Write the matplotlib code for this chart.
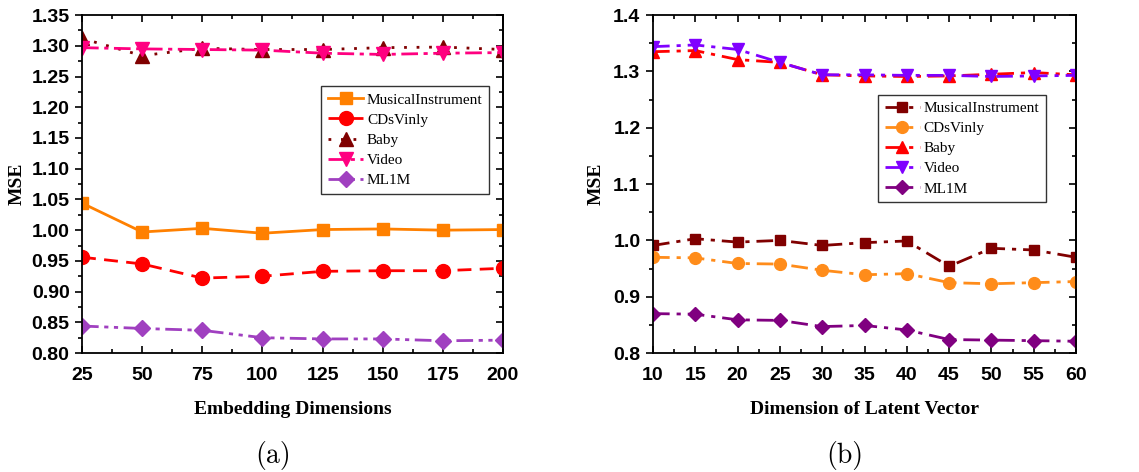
import matplotlib
matplotlib.use("Agg")
import matplotlib.pyplot as plt
from matplotlib.ticker import MultipleLocator, FormatStrFormatter

# (a) embedding dimensions
emb_dims = [25, 50, 75, 100, 125, 150, 175, 200]
a_musical = [1.044, 0.997, 1.003, 0.995, 1.001, 1.002, 1.000, 1.001]
a_cds = [0.956, 0.945, 0.922, 0.925, 0.933, 0.934, 0.934, 0.938]
a_baby = [1.312, 1.284, 1.296, 1.294, 1.294, 1.297, 1.298, 1.294]
a_video = [1.297, 1.295, 1.294, 1.293, 1.288, 1.286, 1.288, 1.289]
a_ml1m = [0.844, 0.840, 0.837, 0.825, 0.823, 0.823, 0.820, 0.821]

# (b) latent vector dimension
lat_dims = [10, 15, 20, 25, 30, 35, 40, 45, 50, 55, 60]
b_musical = [0.991, 1.003, 0.997, 1.000, 0.991, 0.996, 0.999, 0.954, 0.986, 0.983, 0.970]
b_cds = [0.970, 0.969, 0.959, 0.958, 0.947, 0.939, 0.941, 0.925, 0.923, 0.925, 0.927]
b_baby = [1.335, 1.337, 1.321, 1.316, 1.294, 1.292, 1.291, 1.292, 1.295, 1.298, 1.294]
b_video = [1.344, 1.347, 1.339, 1.316, 1.294, 1.294, 1.293, 1.293, 1.291, 1.292, 1.293]
b_ml1m = [0.870, 0.869, 0.859, 0.858, 0.847, 0.849, 0.841, 0.824, 0.823, 0.822, 0.821]

names = ["MusicalInstrument", "CDsVinly", "Baby", "Video", "ML1M"]

tick_font = dict(family="Liberation Sans", weight="bold", size=14)
label_font = dict(family="Liberation Serif", weight="bold", size=14)


def style_axes(ax, xmajor, xminor, ymajor, yminor, yfmt):
    ax.xaxis.set_major_locator(MultipleLocator(xmajor))
    ax.xaxis.set_minor_locator(MultipleLocator(xminor))
    ax.yaxis.set_major_locator(MultipleLocator(ymajor))
    ax.yaxis.set_minor_locator(MultipleLocator(yminor))
    ax.yaxis.set_major_formatter(FormatStrFormatter(yfmt))
    ax.tick_params(axis="x", which="both", direction="in", top=True, width=1.2)
    ax.tick_params(axis="y", which="both", direction="out", width=1.2)
    ax.tick_params(which="major", length=5)
    ax.tick_params(which="minor", length=3)
    ax.tick_params(axis="x", which="major", pad=10)
    ax.tick_params(axis="y", which="major", pad=4)
    for sp in ax.spines.values():
        sp.set_linewidth(1.3)
    for lbl in ax.get_xticklabels() + ax.get_yticklabels():
        lbl.set_fontfamily(tick_font["family"])
        lbl.set_fontweight(tick_font["weight"])
        lbl.set_fontsize(tick_font["size"])
    # mirrored right ticks pointing inward
    sec = ax.secondary_yaxis("right")
    sec.yaxis.set_major_locator(MultipleLocator(ymajor))
    sec.yaxis.set_minor_locator(MultipleLocator(yminor))
    sec.tick_params(which="both", direction="in", labelright=False, width=1.2)
    sec.tick_params(which="major", length=5)
    sec.tick_params(which="minor", length=3)
    sec.spines["right"].set_linewidth(1.3)


fig = plt.figure(figsize=(11.39, 4.72), dpi=100)
ax1 = fig.add_axes([0.072, 0.252, 0.3696, 0.716])
ax2 = fig.add_axes([0.5733, 0.252, 0.3714, 0.716])

lw = 2
ms = 9
ax1.plot(emb_dims, a_musical, color="#FF8000", ls="-", lw=lw, marker="s", ms=ms, label=names[0])
ax1.plot(emb_dims, a_cds, color="#FF0000", ls=(0, (5, 3)), lw=lw, marker="o", ms=ms + 1, label=names[1])
ax1.plot(emb_dims, a_baby, color="#800000", ls=(0, (1, 3.5)), lw=lw, marker="^", ms=ms + 1, label=names[2])
ax1.plot(emb_dims, a_video, color="#FF0080", ls=(0, (6, 2, 1.5, 2)), lw=lw, marker="v", ms=ms + 1, label=names[3])
ax1.plot(emb_dims, a_ml1m, color="#A040C0", ls=(0, (6, 2, 1.5, 2, 1.5, 2)), lw=lw, marker="D", ms=ms - 1, label=names[4])
ax1.set_xlim(25, 200)
ax1.set_ylim(0.80, 1.35)
style_axes(ax1, 25, 12.5, 0.05, 0.025, "%.2f")
ax1.set_xlabel("Embedding Dimensions", fontdict=label_font, labelpad=12)
ax1.set_ylabel("MSE", fontdict=label_font, labelpad=4)

leg_kw = dict(loc="upper left", prop=dict(family="Liberation Serif", size=11), frameon=True,
              fancybox=False, edgecolor="black", handlelength=2.3, borderpad=0.45,
              labelspacing=0.42, handletextpad=0.25, borderaxespad=0)
leg1 = ax1.legend(bbox_to_anchor=(0.568, 0.79), **leg_kw)
leg1.get_frame().set_linewidth(1.0)

dashdot = (0, (6, 2.5, 1.5, 2.5))
ms2 = 7.5
ax2.plot(lat_dims, b_musical, color="#800000", ls=dashdot, lw=lw, marker="s", ms=ms2, label=names[0])
ax2.plot(lat_dims, b_cds, color="#FF8C1A", ls=dashdot, lw=lw, marker="o", ms=ms2 + 1, label=names[1])
ax2.plot(lat_dims, b_baby, color="#FF0000", ls=dashdot, lw=lw, marker="^", ms=ms2 + 1, label=names[2])
ax2.plot(lat_dims, b_video, color="#8000FF", ls=dashdot, lw=lw, marker="v", ms=ms2 + 1, label=names[3])
ax2.plot(lat_dims, b_ml1m, color="#800080", ls=dashdot, lw=lw, marker="D", ms=ms2 - 0.5, label=names[4])
ax2.set_xlim(10, 60)
ax2.set_ylim(0.8, 1.4)
style_axes(ax2, 5, 2.5, 0.1, 0.05, "%.1f")
ax2.set_xlabel("Dimension of Latent Vector", fontdict=label_font, labelpad=12)
ax2.set_ylabel("MSE", fontdict=label_font, labelpad=6)
leg2 = ax2.legend(bbox_to_anchor=(0.532, 0.765), **leg_kw)
leg2.get_frame().set_linewidth(1.0)

fig.text(0.240, 0.036, "(a)", family="cmr10", size=20, ha="center", va="center")
fig.text(0.742, 0.036, "(b)", family="cmr10", size=20, ha="center", va="center")

fig.savefig("out.png", dpi=100)
